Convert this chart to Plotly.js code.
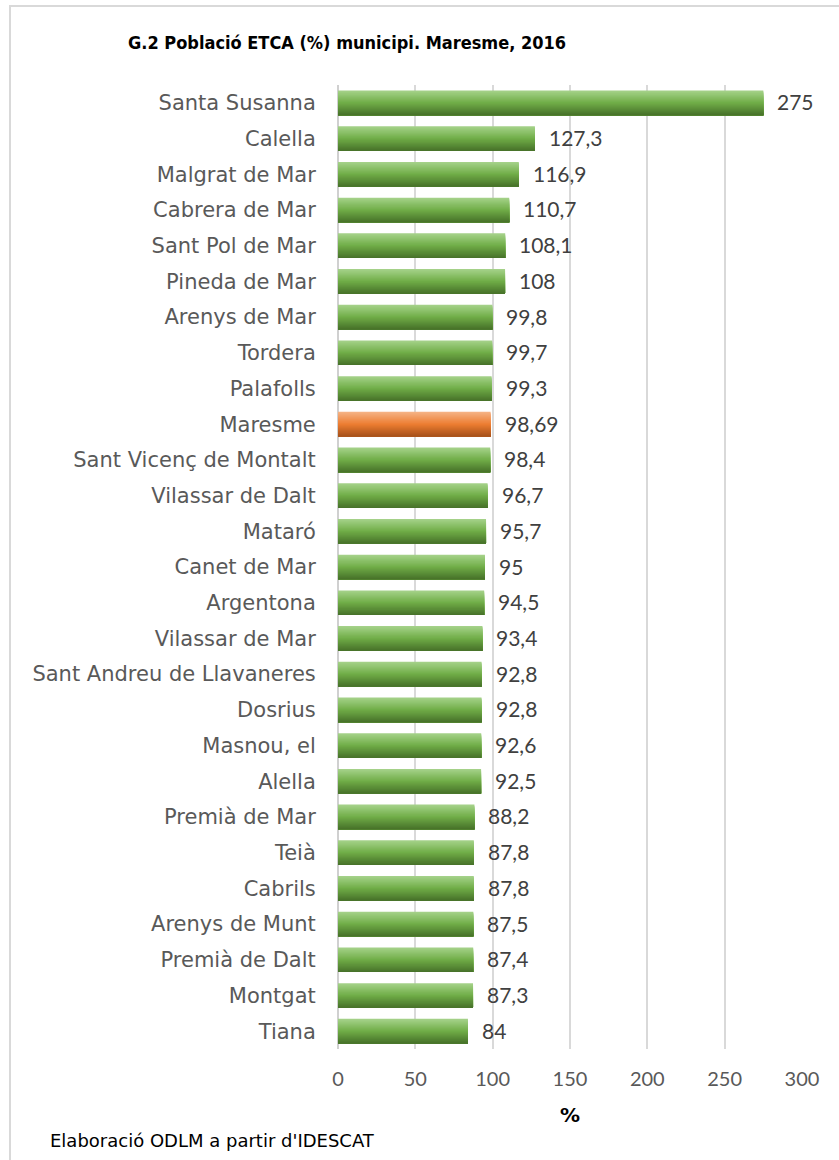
<!DOCTYPE html>
<html><head><meta charset="utf-8">
<script src="https://cdn.plot.ly/plotly-3.0.1.min.js"></script>
<style>
html,body{margin:0;padding:0;background:#fff;}
#frame{position:absolute;left:9px;top:5px;width:900px;height:1300px;border-left:2px solid #d9d9d9;border-top:2px solid #d9d9d9;pointer-events:none;}
#chart{position:absolute;left:0;top:0;width:839px;height:1160px;}
</style></head>
<body>
<div id="chart"></div>
<div id="frame"></div>
<script>
const categories = ["Santa Susanna","Calella","Malgrat de Mar","Cabrera de Mar","Sant Pol de Mar","Pineda de Mar","Arenys de Mar","Tordera","Palafolls","Maresme","Sant Vicenç de Montalt","Vilassar de Dalt","Mataró","Canet de Mar","Argentona","Vilassar de Mar","Sant Andreu de Llavaneres","Dosrius","Masnou, el","Alella","Premià de Mar","Teià","Cabrils","Arenys de Munt","Premià de Dalt","Montgat","Tiana"];
const values = [275,127.3,116.9,110.7,108.1,108,99.8,99.7,99.3,98.69,98.4,96.7,95.7,95,94.5,93.4,92.8,92.8,92.6,92.5,88.2,87.8,87.8,87.5,87.4,87.3,84];
const highlight = "Maresme";
const xTicks = [0,50,100,150,200,250,300];

// gradient styling (top -> middle -> bottom)
const greenGrad = [[166,211,139],[112,173,71],[70,112,41]];
const orangeGrad = [[245,179,134],[237,125,49],[164,80,25]];
function gradColor(g, t) {
  let a, b, u;
  if (t < 0.5) { a = g[0]; b = g[1]; u = t / 0.5; } else { a = g[1]; b = g[2]; u = (t - 0.5) / 0.5; }
  const c = a.map((v, k) => Math.round(v + (b[k] - v) * u));
  return 'rgb(' + c.join(',') + ')';
}

const N = 24;
const W = 0.69;
const traces = [];
for (let i = 0; i < N; i++) {
  const t = (i + 0.5) / N;
  traces.push({
    type: 'bar', orientation: 'h',
    y: categories, x: values,
    offset: -W / 2 + i * W / N,
    width: W - i * W / N,
    marker: {color: categories.map(c => c === highlight ? gradColor(orangeGrad, t) : gradColor(greenGrad, t)), line: {width: 0}},
    hoverinfo: 'skip', showlegend: false
  });
}

const annotations = categories.map((c, i) => ({
  x: values[i], y: c, xref: 'x', yref: 'y',
  text: String(values[i]).replace('.', ','),
  showarrow: false, xanchor: 'left', yanchor: 'middle', xshift: 12, yshift: 1,
  font: {family: 'Lato, "Open Sans", sans-serif', size: 21, color: '#404040'}
}));
annotations.push({
  xref: 'paper', yref: 'paper', x: (48 - 338) / 464, y: (1049 - 1140) / 964,
  xanchor: 'left', yanchor: 'middle', showarrow: false,
  text: "Elaboració ODLM a partir d'IDESCAT",
  font: {family: '"DejaVu Sans", Verdana, sans-serif', size: 18, color: '#000'}
});

const layout = {
  width: 839, height: 1160,
  margin: {l: 338, r: 37, t: 85, b: 111},
  paper_bgcolor: '#fff', plot_bgcolor: '#fff',
  separators: ',.',
  barmode: 'overlay',
  title: {
    text: 'G.2 Població ETCA (%) municipi. Maresme, 2016',
    xref: 'container', yref: 'container',
    x: 128 / 839, xanchor: 'left', y: 1 - 43 / 1160, yanchor: 'middle',
    font: {family: '"DejaVu Sans Condensed", "DejaVu Sans", sans-serif', size: 18, color: '#000', weight: 'bold'}
  },
  xaxis: {
    range: [0, 300], tickvals: xTicks, ticktext: xTicks.map(String),
    showgrid: true, gridcolor: '#d9d9d9', gridwidth: 2,
    zeroline: true, zerolinecolor: '#d0d0d0', zerolinewidth: 2,
    showline: false, ticks: 'outside', ticklen: 12, tickcolor: 'rgba(0,0,0,0)',
    tickfont: {family: 'Lato, "Open Sans", sans-serif', size: 20, color: '#595959'},
    title: {text: '%', standoff: 18, font: {family: '"DejaVu Sans", Verdana, sans-serif', size: 20, color: '#000', weight: 'bold'}},
    fixedrange: true
  },
  yaxis: {
    type: 'category', categoryorder: 'array', categoryarray: categories,
    autorange: 'reversed',
    showgrid: false, zeroline: false, showline: false,
    ticks: 'outside', ticklen: 17, tickcolor: 'rgba(0,0,0,0)',
    tickfont: {family: '"DejaVu Sans", Verdana, sans-serif', size: 21, color: '#595959'},
    fixedrange: true
  },
  annotations: annotations
};

Plotly.newPlot('chart', traces, layout, {displayModeBar: false, staticPlot: true});
</script>
</body></html>
